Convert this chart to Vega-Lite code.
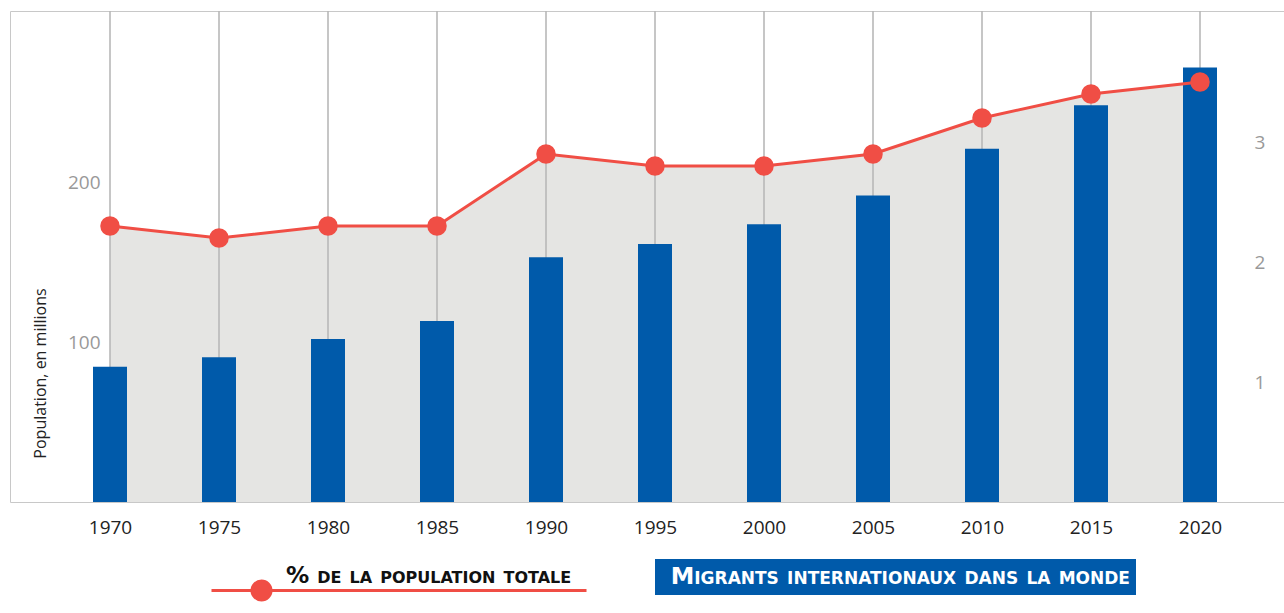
{
  "$schema": "https://vega.github.io/schema/vega-lite/v6.json",
  "autosize": {"type": "none"},
  "padding": {"left": 10, "top": 11, "right": 0, "bottom": 111},
  "width": 1274,
  "height": 491,
  "background": "white",
  "config": {
    "font": "Open Sans",
    "view": {"stroke": "#c8c8c8", "strokeWidth": 1}
  },
  "data": {
    "values": [
      {"year": 1970, "migrants": 84.5, "pct": 2.3},
      {"year": 1975, "migrants": 90.4, "pct": 2.2},
      {"year": 1980, "migrants": 101.9, "pct": 2.3},
      {"year": 1985, "migrants": 113.2, "pct": 2.3},
      {"year": 1990, "migrants": 152.9, "pct": 2.9},
      {"year": 1995, "migrants": 161.3, "pct": 2.8},
      {"year": 2000, "migrants": 173.6, "pct": 2.8},
      {"year": 2005, "migrants": 191.6, "pct": 2.9},
      {"year": 2010, "migrants": 220.8, "pct": 3.2},
      {"year": 2015, "migrants": 247.9, "pct": 3.4},
      {"year": 2020, "migrants": 271.6, "pct": 3.5}
    ]
  },
  "encoding": {
    "x": {
      "field": "year",
      "type": "quantitative",
      "scale": {"domain": [1965.4128, 2023.8532], "nice": false, "zero": false, "padding": 0},
      "axis": {
        "values": [1970, 1975, 1980, 1985, 1990, 1995, 2000, 2005, 2010, 2015, 2020],
        "format": "d",
        "title": null,
        "grid": false,
        "ticks": false,
        "domain": false,
        "labelFontSize": 19,
        "labelColor": "#222222",
        "labelPadding": 16,
        "labelFlush": false,
        "labelOverlap": false
      }
    }
  },
  "layer": [
    {
      "mark": {"type": "area", "color": "#E5E5E3"},
      "encoding": {
        "y": {
          "field": "pct",
          "type": "quantitative",
          "scale": {"domain": [0, 4.0917], "nice": false},
          "axis": {
            "orient": "right",
            "values": [1, 2, 3],
            "title": null,
            "grid": false,
            "ticks": false,
            "tickSize": 0,
            "domain": false,
            "labelFontSize": 19,
            "labelColor": "#999999",
            "labelPadding": -30
          }
        }
      }
    },
    {
      "mark": {"type": "rule", "color": "#b8b8b8", "strokeWidth": 1.6},
      "encoding": {}
    },
    {
      "mark": {"type": "bar", "size": 34},
      "encoding": {
        "y": {
          "field": "migrants",
          "type": "quantitative",
          "scale": {"domain": [0, 306.875], "nice": false},
          "axis": {
            "orient": "left",
            "values": [100, 200],
            "title": "Population, en millions",
            "titleFontSize": 16,
            "titleFontWeight": "normal",
            "titleColor": "#222222",
            "titleAngle": -90,
            "titleX": 30,
            "titleY": 362,
            "titleAlign": "center",
            "titleBaseline": "middle",
            "grid": false,
            "ticks": false,
            "tickSize": 0,
            "domain": false,
            "labelFontSize": 19,
            "labelColor": "#999999",
            "labelPadding": -90
          }
        },
        "color": {
          "datum": "Migrants internationaux dans la monde",
          "scale": {"range": ["#005AAA"]},
          "legend": {
            "title": null,
            "orient": "none",
            "legendX": 645,
            "legendY": 548,
            "fillColor": "#005AAA",
            "padding": 6,
            "symbolSize": 0,
            "symbolStrokeWidth": 0,
            "symbolOpacity": 0,
            "labelOffset": -14,
            "labelColor": "white",
            "labelFont": "DejaVu Sans",
            "labelFontSize": 23.7,
            "labelFontWeight": "bold",
            "labelLimit": 1000,
            "encode": {"labels": {"update": {"fontVariant": {"value": "small-caps"}}}}
          }
        }
      }
    },
    {
      "mark": {"type": "line", "color": "#F04E45", "strokeWidth": 3},
      "encoding": {
        "y": {
          "field": "pct",
          "type": "quantitative",
          "scale": {"domain": [0, 4.0917], "nice": false},
          "axis": null
        }
      }
    },
    {
      "mark": {"type": "circle", "size": 380, "opacity": 1},
      "encoding": {
        "y": {
          "field": "pct",
          "type": "quantitative",
          "scale": {"domain": [0, 4.0917], "nice": false},
          "axis": null
        },
        "color": {
          "datum": "% de la population totale",
          "scale": {"range": ["#F04E45"]},
          "legend": {
            "title": null,
            "orient": "none",
            "legendX": 200,
            "legendY": 375.5,
            "padding": 0,
            "symbolType": "M-1,0.08L1,0.08M-0.784,0.08A0.0507,0.0507 0 1 1 -0.6826,0.08A0.0507,0.0507 0 1 1 -0.784,0.08Z",
            "symbolSize": 140625,
            "symbolFillColor": "#F04E45",
            "symbolStrokeColor": "#F04E45",
            "symbolStrokeWidth": 3,
            "symbolOpacity": 1,
            "labelOffset": -302,
            "labelColor": "#111111",
            "labelFont": "DejaVu Sans",
            "labelFontSize": 23.2,
            "labelFontWeight": "bold",
            "labelLimit": 1000,
            "encode": {
              "labels": {"update": {"fontVariant": {"value": "small-caps"}}},
              "symbols": {"update": {"fill": {"value": "#F04E45"}, "stroke": {"value": "#F04E45"}, "strokeWidth": {"value": 3}, "opacity": {"value": 1}}}
            }
          }
        }
      }
    }
  ],
  "resolve": {
    "scale": {"y": "independent", "color": "independent"},
    "legend": {"color": "independent"}
  }
}
